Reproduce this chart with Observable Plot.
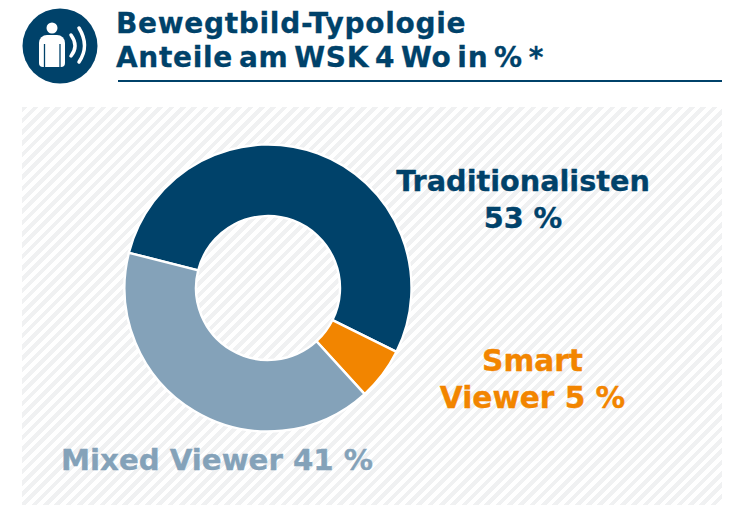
<!DOCTYPE html>
<html lang="de">
<head>
<meta charset="utf-8">
<script src="https://cdn.jsdelivr.net/npm/d3@7"></script>
<script src="https://cdn.jsdelivr.net/npm/@observablehq/plot@0.6"></script>
<style>
html,body{margin:0;padding:0;background:#fff;width:743px;height:505px;overflow:hidden}
body{position:relative;font-family:"DejaVu Sans",sans-serif;font-weight:700}
#icon{position:absolute;left:22px;top:8px}
h1{position:absolute;margin:0;left:116px;top:7px;font-size:28px;line-height:34px;color:#00426a;font-weight:700;white-space:nowrap;letter-spacing:.7px;word-spacing:-4.6px;-webkit-text-stroke:.3px #00426a}
#rule{position:absolute;left:118px;top:80px;width:604px;height:2px;background:#00426a}
#panel{position:absolute;left:22px;top:107px;width:700px;height:398px;
background:repeating-linear-gradient(135deg,#f0f1f2 0 4px,#fff 4px 8px)}
#panel text{stroke-width:.35px;paint-order:stroke}
</style>
</head>
<body>
<svg id="icon" width="76" height="76" viewBox="0 0 76 76">
<circle cx="38" cy="38" r="37.5" fill="#00426a"/>
<circle cx="30" cy="20" r="5.5" fill="#fff"/>
<path d="M17 35a8 8 0 0 1 8-8h10a8 8 0 0 1 8 8v20a4 4 0 0 1-4 4H21a4 4 0 0 1-4-4z" fill="#fff"/>
<path d="M22.5 36V59M38 36V59" stroke="#00426a" stroke-width="1.3" fill="none"/>
<path d="M49 27Q57 38 49 48" stroke="#fff" stroke-width="3.5" fill="none" stroke-linecap="round"/>
<path d="M57 20Q68 38 57 54" stroke="#fff" stroke-width="3.5" fill="none" stroke-linecap="round"/>
</svg>
<h1>Bewegtbild-Typologie<br>Anteile am WSK 4 Wo in % *</h1>
<div id="rule"></div>
<div id="panel"></div>
<script>
const names = ["Traditionalisten", "Smart Viewer", "Mixed Viewer"];
const shares = [53.4, 5.9, 40.7];
const colors = ["#00426a", "#f28500", "#84a2b9"];
const labelLines = [
  {text: "Traditionalisten\n53 %", color: colors[0], dx: 500.5, dy: 57, size: 28.7},
  {text: "Smart\nViewer 5 %", color: colors[1], dx: 510, dy: 237, size: 29.6},
  {text: "Mixed Viewer 41 %", color: colors[2], dx: 194.5, dy: 336, size: 29.2}
];
const rows = names.map((name, i) => ({name, share: shares[i]}));
const total = d3.sum(shares);
const startAngle = -75.8 * Math.PI / 180;
const cx = 246, cy = 181, outer = 143.5, inner = 72;

const donut = Plot.barX(rows, Plot.stackX({
  x: "share",
  fill: "name",
  render(index, scales, values) {
    const arc = d3.arc().innerRadius(inner).outerRadius(outer);
    const g = d3.create("svg:g").attr("transform", `translate(${cx},${cy})`);
    for (const i of index) {
      g.append("path")
        .attr("d", arc({startAngle: values.x1[i], endAngle: values.x2[i]}))
        .attr("fill", values.fill[i])
        .attr("stroke", "#fff")
        .attr("stroke-width", 2.4)
        .attr("stroke-linejoin", "round")
        .append("title").text(rows[i].name);
    }
    return g.node();
  }
}));

const chart = Plot.plot({
  width: 700,
  height: 398,
  margin: 0,
  style: {background: "transparent", fontFamily: '"DejaVu Sans", sans-serif'},
  x: {domain: [0, total], range: [startAngle, startAngle + 2 * Math.PI], axis: null},
  color: {domain: names, range: colors},
  marks: [
    donut,
    ...labelLines.map(l => Plot.text([l.text], {
      text: d => d,
      frameAnchor: "top-left",
      dx: l.dx, dy: l.dy,
      textAnchor: "middle",
      lineAnchor: "top",
      lineHeight: 37 / l.size,
      fontSize: l.size,
      fontWeight: 700,
      fill: l.color,
      stroke: l.color
    }))
  ]
});
document.getElementById("panel").appendChild(chart);
</script>
</body>
</html>
